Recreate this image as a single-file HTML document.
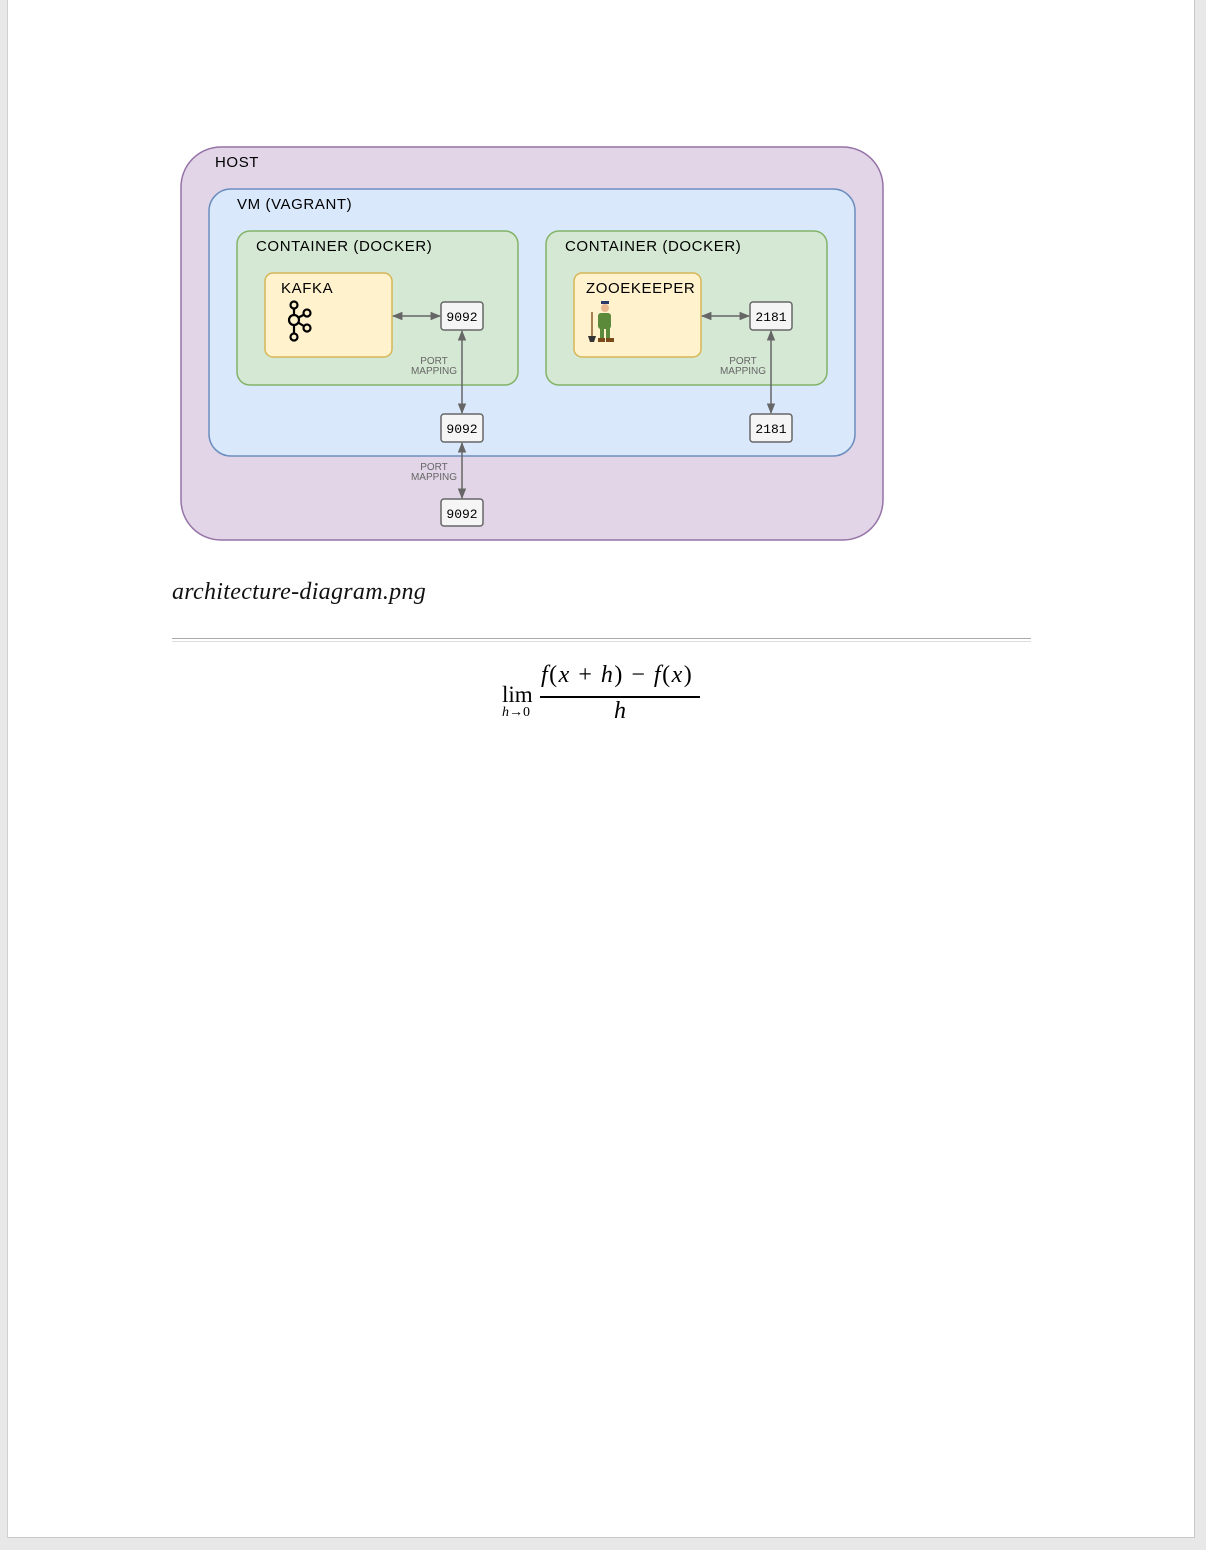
<!DOCTYPE html>
<html><head><meta charset="utf-8"><style>
html,body{margin:0;padding:0;}
body{width:1206px;height:1550px;background:#e8e8e8;position:relative;overflow:hidden;font-family:"Liberation Sans",sans-serif;}
#page{position:absolute;left:7px;top:0;width:1186px;height:1537px;background:#fff;border-right:1px solid #c8c8c8;border-bottom:1px solid #c8c8c8;border-left:1px solid #d0d0d0;}
.cap{position:absolute;left:172px;top:579px;font-family:"Liberation Serif",serif;font-style:italic;font-size:24px;letter-spacing:0.3px;color:#111;}
.hr{position:absolute;left:172px;top:638px;width:859px;height:2px;border-top:1px solid #aaa;border-bottom:1px solid #ddd;}
.m{font-family:"Liberation Serif",serif;color:#000;position:absolute;}
</style></head><body>
<div id="page"></div>
<svg style="position:absolute;left:0;top:0" width="1206" height="1550" font-family="Liberation Sans, sans-serif">
<defs>
<marker id="a" viewBox="0 0 10 10" refX="9" refY="5" markerWidth="7" markerHeight="7" orient="auto-start-reverse"><path d="M0,1 L10,5 L0,9 z" fill="#666"/></marker>
</defs>
<rect x="181" y="147" width="702" height="393" rx="40" fill="#e1d5e7" stroke="#9673a6" stroke-width="1.5"/>
<g font-size="15" letter-spacing="0.6" fill="#000">
<text x="215" y="167">HOST</text>
</g>
<rect x="209" y="189" width="646" height="267" rx="22" fill="#dae8fc" stroke="#6c8ebf" stroke-width="1.5"/>
<rect x="237" y="231" width="281" height="154" rx="13" fill="#d5e8d4" stroke="#82b366" stroke-width="1.5"/>
<rect x="546" y="231" width="281" height="154" rx="13" fill="#d5e8d4" stroke="#82b366" stroke-width="1.5"/>
<rect x="265" y="273" width="127" height="84" rx="8" fill="#fff2cc" stroke="#d6b656" stroke-width="1.5"/>
<rect x="574" y="273" width="127" height="84" rx="8" fill="#fff2cc" stroke="#d6b656" stroke-width="1.5"/>
<g font-size="15" letter-spacing="0.6" fill="#000">
<text x="237" y="209">VM (VAGRANT)</text>
<text x="256" y="251">CONTAINER (DOCKER)</text>
<text x="565" y="251">CONTAINER (DOCKER)</text>
<text x="281" y="293">KAFKA</text>
<text x="586" y="293">ZOOEKEEPER</text>
</g>
<g stroke="#000" stroke-width="2.2" fill="none">
<line x1="294" y1="308" x2="294" y2="334"/><line x1="294" y1="320" x2="307" y2="313"/><line x1="294" y1="320" x2="307" y2="328"/>
</g>
<g stroke="#000" stroke-width="2.2" fill="#fff2cc">
<circle cx="294" cy="305" r="3.5"/><circle cx="294" cy="320" r="5"/><circle cx="294" cy="337" r="3.5"/><circle cx="307" cy="313" r="3.5"/><circle cx="307" cy="328" r="3.5"/>
</g>
<g>
<line x1="592" y1="312" x2="592" y2="340" stroke="#8b5a2b" stroke-width="1.5"/>
<path d="M588,336 h8 l-2,6 h-4z" fill="#333"/>
<rect x="598" y="313" width="13" height="16" rx="3" fill="#5a8a3a"/>
<circle cx="605" cy="308" r="4" fill="#e8b890"/>
<rect x="601" y="301" width="8" height="3" fill="#2a3a6a"/>
<rect x="600" y="328" width="4" height="10" fill="#5a8a3a"/><rect x="606" y="328" width="4" height="10" fill="#5a8a3a"/>
<rect x="598" y="338" width="7" height="4" fill="#7a4a1a"/><rect x="606" y="338" width="8" height="4" fill="#7a4a1a"/>
</g>
<g fill="#f5f5f5" stroke="#666" stroke-width="1.5">
<rect x="441" y="302" width="42" height="28" rx="3"/>
<rect x="750" y="302" width="42" height="28" rx="3"/>
<rect x="441" y="414" width="42" height="28" rx="3"/>
<rect x="750" y="414" width="42" height="28" rx="3"/>
<rect x="441" y="499" width="42" height="27" rx="3"/>
</g>
<g font-family="Liberation Mono, monospace" font-size="13" fill="#000" text-anchor="middle">
<text x="462" y="321">9092</text><text x="771" y="321">2181</text>
<text x="462" y="433">9092</text><text x="771" y="433">2181</text>
<text x="462" y="518">9092</text>
</g>
<g stroke="#666" stroke-width="1.5" marker-start="url(#a)" marker-end="url(#a)">
<line x1="393" y1="316" x2="440" y2="316"/>
<line x1="702" y1="316" x2="749" y2="316"/>
<line x1="462" y1="331" x2="462" y2="413"/>
<line x1="771" y1="331" x2="771" y2="413"/>
<line x1="462" y1="443" x2="462" y2="498"/>
</g>
<g font-size="10" fill="#666" text-anchor="middle">
<text x="434" y="364">PORT</text><text x="434" y="374">MAPPING</text>
<text x="743" y="364">PORT</text><text x="743" y="374">MAPPING</text>
<text x="434" y="470">PORT</text><text x="434" y="480">MAPPING</text>
</g>
</svg>
<div class="cap">architecture-diagram.png</div>
<div class="hr"></div>
<div class="m" style="left:502px;top:682px;font-size:23px;">lim</div>
<div class="m" style="left:502px;top:705px;font-size:14px;font-style:italic;">h<span style="font-style:normal">→0</span></div>
<div class="m" style="left:541px;top:662px;font-size:24px;letter-spacing:1.5px;font-style:italic;white-space:nowrap;">f<span style="font-style:normal">(</span>x <span style="font-style:normal">+</span> h<span style="font-style:normal">) − </span>f<span style="font-style:normal">(</span>x<span style="font-style:normal">)</span></div>
<div style="position:absolute;left:540px;top:696px;width:160px;height:2px;background:#000;"></div>
<div class="m" style="left:614px;top:698px;font-size:24px;font-style:italic;">h</div>
</body></html>
